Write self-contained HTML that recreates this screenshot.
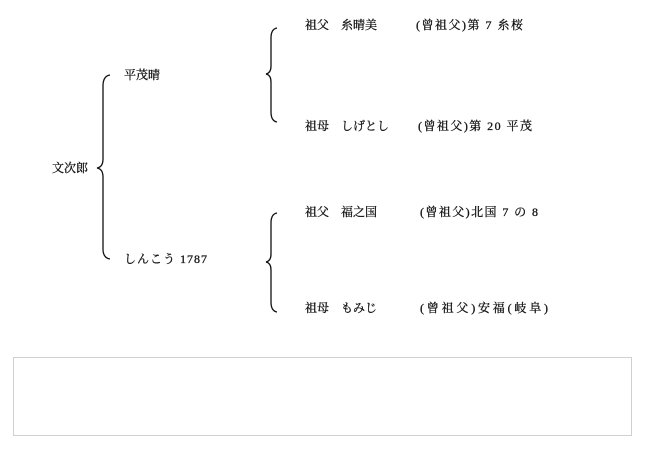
<!DOCTYPE html>
<html><head><meta charset="utf-8"><style>
body{margin:0;background:#fff;width:650px;height:450px;overflow:hidden}
svg{position:absolute;left:0;top:0}
text{font-family:"Liberation Serif","Noto Serif CJK SC",serif;font-size:12px;fill:#111;stroke:#111;stroke-width:0.3}
</style></head><body>
<svg width="650" height="450" viewBox="0 0 650 450">
<g fill="none" stroke="#111" stroke-width="1.3">
<path d="M110,75 Q103,76 103,86 L103,159 Q103,167 97,168 Q103,169 103,177 L103,249 Q103,258 110,259"/>
<path d="M277,28 Q271,29 271,38 L271,66 Q271,73 266,74 Q271,75 271,82 L271,112 Q271,121 277,122"/>
<path d="M277,213 Q271,214 271,223 L271,254 Q271,261 266,262 Q271,263 271,270 L271,302 Q271,311 277,312"/>
</g>
<text x="52" y="172">文次郎</text>
<text x="124" y="79">平茂晴</text>
<text x="124" y="263" textLength="83" lengthAdjust="spacing">しんこう 1787</text>
<text x="305" y="29">祖父</text><text x="341" y="29">糸晴美</text><text x="416" y="29" textLength="107" lengthAdjust="spacing">(曾祖父)第 7 糸桜</text>
<text x="305" y="130">祖母</text><text x="341" y="130">しげとし</text><text x="418" y="130" textLength="114" lengthAdjust="spacing">(曾祖父)第 20 平茂</text>
<text x="305" y="216">祖父</text><text x="341" y="216">福之国</text><text x="420" y="216" textLength="118" lengthAdjust="spacing">(曾祖父)北国 7 の 8</text>
<text x="305" y="312">祖母</text><text x="341" y="312">もみじ</text><text x="420" y="312" textLength="128" lengthAdjust="spacing">(曾祖父)安福(岐阜)</text>
<rect x="13.5" y="357.5" width="618" height="78" fill="none" stroke="#d0d0d0" stroke-width="1"/>
</svg>
</body></html>
